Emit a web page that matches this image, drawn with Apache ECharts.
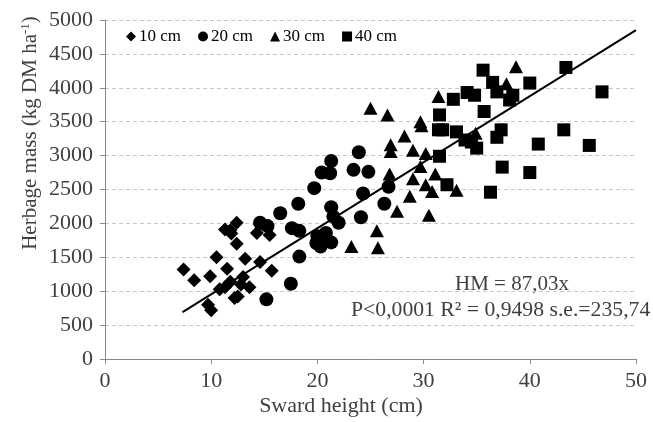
<!DOCTYPE html>
<html><head><meta charset="utf-8">
<script src="https://cdn.jsdelivr.net/npm/echarts@6/dist/echarts.min.js"></script>
<style>html,body{margin:0;padding:0;background:#fff}#c{width:653px;height:422px}</style>
</head><body><div id="c"></div>
<script>
const seriesNames = ['10 cm', '20 cm', '30 cm', '40 cm'];
const cm10 = [[7.4,1320],[8.4,1160],[9.9,1220],[10.5,1500],[11.5,1330],[11.3,1910],[12.4,2010],[11.9,1850],[12.4,1700],[13.2,1480],[14.6,1430],[15.7,1300],[14.3,1860],[14.6,1980],[15.5,1830],[10.8,1030],[11.8,1140],[13.0,1210],[13.6,1060],[12.2,900],[9.7,800],[10.0,720],[11.8,1900],[12.5,920],[12.8,1100],[11.3,1060]];
const cm20 = [[15.2,880],[17.5,1110],[18.3,1510],[16.5,2150],[14.6,2010],[15.3,1960],[17.6,1930],[18.3,1890],[18.2,2290],[19.7,2520],[20.4,2750],[21.2,2740],[21.3,2920],[21.3,2240],[20.0,1810],[20.3,1660],[21.3,1720],[20.8,1860],[22.0,2010],[21.5,2100],[23.4,2790],[23.9,3050],[24.8,2760],[24.3,2440],[24.1,2090],[26.3,2290],[26.7,2540],[19.9,1710],[20.6,1760]];
const cm30 = [[23.2,1660],[25.7,1640],[25.6,1890],[27.5,2180],[30.5,2120],[28.7,2400],[30.2,2570],[30.8,2470],[31.1,2730],[29.0,2660],[29.7,2840],[26.8,2730],[26.9,3160],[26.9,3060],[28.2,3290],[29.0,3080],[29.7,3500],[29.8,3440],[30.2,3030],[31.4,3870],[25.0,3700],[26.6,3600],[33.1,2490],[34.9,3330],[37.8,4060],[38.7,4310]];
const cm40 = [[35.6,4260],[36.5,4080],[36.9,3940],[38.1,3820],[38.4,3890],[40.0,4070],[43.4,4300],[46.8,3940],[32.8,3830],[34.1,3930],[34.8,3890],[35.7,3650],[31.5,3600],[31.4,3380],[31.8,3380],[33.1,3350],[33.9,3230],[35.0,3110],[37.3,3380],[36.9,3270],[31.5,2990],[37.4,2830],[40.0,2750],[36.3,2460],[32.2,2570],[40.8,3170],[43.2,3380],[45.6,3150],[34.5,3200]];
const trendX = [7.3, 50];
const trendY = [690, 4850];
const eqText = 'HM = 87,03x';
const statText = 'P<0,0001 R² = 0,9498 s.e.=235,74';

const font = '"Liberation Serif", "Times New Roman", serif';
const txt = '#404040';
const chart = echarts.init(document.getElementById('c'), null, {renderer: 'canvas'});
const mk = (name, data, symbol, size) => ({
  name, type: 'scatter', data, symbol, symbolSize: size,
  itemStyle: {color: '#000', opacity: 1}, z: 3
});
chart.setOption({
  animation: false,
  backgroundColor: '#fff',
  grid: {left: 105, right: 17, top: 20, bottom: 63, containLabel: false},
  legend: {
    left: 121, top: 23, itemWidth: 10, itemHeight: 10, itemGap: 17,
    data: seriesNames.map((n, i) => ({name: n, icon: ['diamond','circle','triangle','rect'][i]})),
    textStyle: {fontFamily: font, fontSize: 17, color: '#000', padding: [0,0,0,-2]}
  },
  xAxis: {
    type: 'value', min: 0, max: 50, interval: 10,
    axisLine: {show: true, lineStyle: {color: '#888', width: 1}},
    axisTick: {show: true, inside: false, length: 5, lineStyle: {color: '#888'}},
    axisLabel: {fontFamily: font, fontSize: 22, color: txt, margin: 11},
    splitLine: {show: false}
  },
  yAxis: {
    type: 'value', min: 0, max: 5000, interval: 500,
    axisLine: {show: true, lineStyle: {color: '#888', width: 1}},
    axisTick: {show: true, inside: false, length: 5, lineStyle: {color: '#888'}},
    axisLabel: {fontFamily: font, fontSize: 22, color: txt, margin: 12, formatter: v => String(v)},
    splitLine: {show: true, lineStyle: {color: '#c8c8c8', type: [4, 3], width: 1}}
  },
  series: [
    mk(seriesNames[0], cm10, 'diamond', [14, 14]),
    mk(seriesNames[1], cm20, 'circle', 14),
    mk(seriesNames[2], cm30, 'triangle', [14, 13]),
    mk(seriesNames[3], cm40, 'rect', 13),
    {
      type: 'line', data: trendX.map((x, i) => [x, trendY[i]]), symbol: 'none',
      lineStyle: {color: '#000', width: 2}, z: 4, silent: true
    }
  ],
  graphic: [
    {type: 'text', x: 30, y: 133, rotation: Math.PI / 2,
      style: {text: 'Herbage mass (kg DM ha{sup|-1})', font: '21px ' + font, fill: txt,
        align: 'center', verticalAlign: 'middle',
        rich: {sup: {font: '13px ' + font, fill: txt, verticalAlign: 'top', padding: [0, 0, 8, 0]}}}},
    {type: 'text', x: 341, y: 406,
      style: {text: 'Sward height (cm)', font: '22px ' + font, fill: txt, align: 'center', verticalAlign: 'middle'}},
    {type: 'text', left: 455, top: 274, style: {text: eqText, font: '21px ' + font, fill: txt}},
    {type: 'text', left: 351, top: 299, style: {text: statText, font: '21.7px ' + font, fill: txt}}
  ]
});
</script>
</body></html>
